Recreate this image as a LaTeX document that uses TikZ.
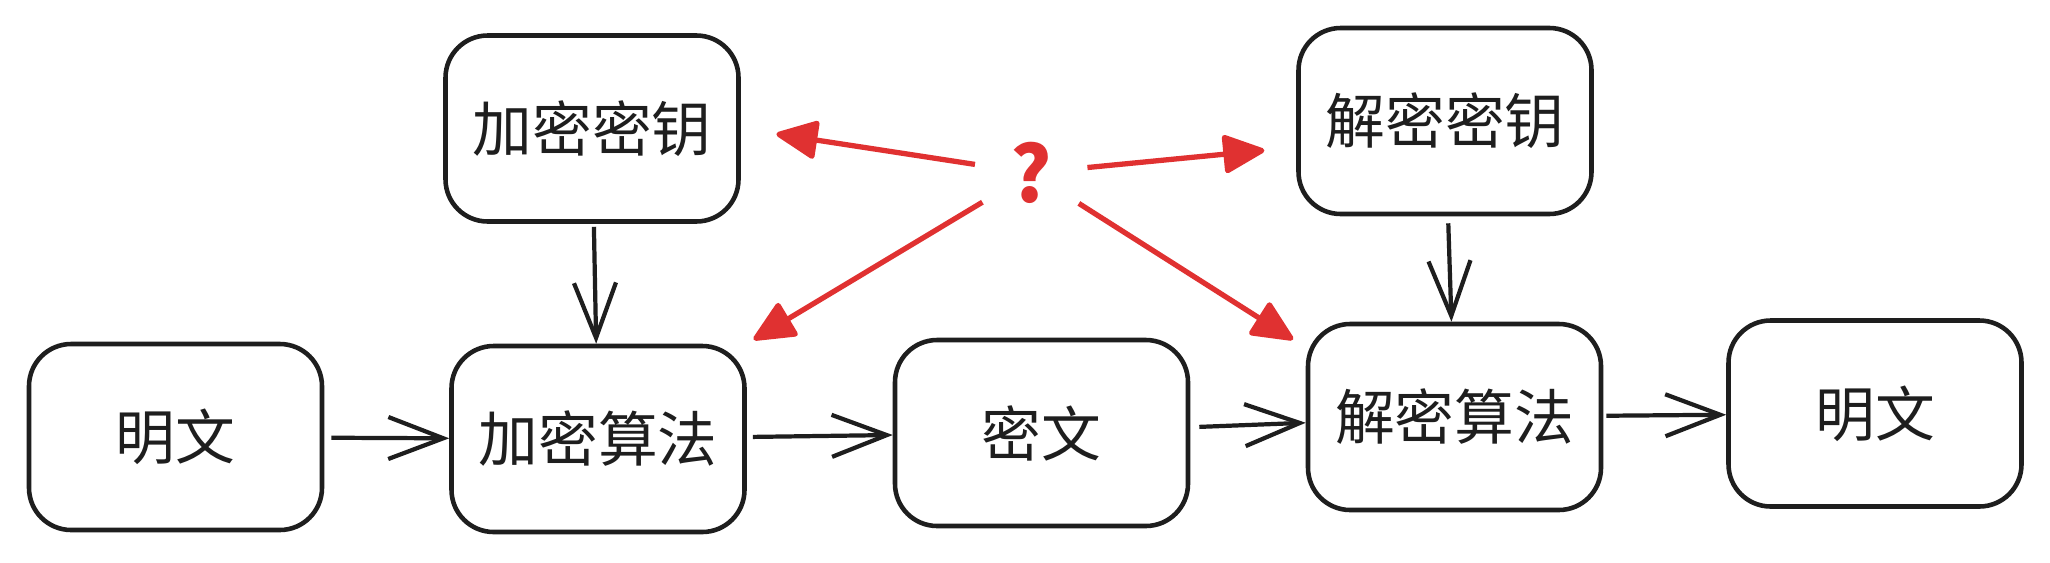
\documentclass[tikz,border=0pt]{standalone}
\usepackage{fontspec}
\setmainfont{Noto Sans CJK SC}
\usetikzlibrary{arrows.meta,positioning}
\definecolor{inkblack}{RGB}{30,30,30}
\definecolor{qred}{RGB}{224,49,49}
\tikzset{
    blockbox/.style={rectangle, rounded corners=12pt, minimum width=2.93cm, minimum height=1.86cm, text centered, draw=inkblack, line width=1.3pt, text=inkblack, font=\fontsize{17}{20}\selectfont},
    qmark/.style={circle, minimum size=1.12cm, inner sep=0pt, text=qred, font=\fontsize{22}{24}\selectfont\bfseries},
    arrow/.style={draw=inkblack, line width=1.2pt, -{Straight Barb[length=5.5mm,width=4.2mm]}},
    redarrow/.style={draw=qred, line width=1.5pt, -{Triangle[length=4.5mm,width=4mm,round]}}
}
\begin{document}
\begin{tikzpicture}

% Canvas
\path[fill=white, use as bounding box] (0,0) rectangle (20.5,5.62);

% Bottom row: plaintext -> encryption -> ciphertext -> decryption -> plaintext
\node[blockbox] (plain_in) at (1.755,1.25) {明文};
\node[blockbox] (enc_alg) at (5.98,1.23) {加密算法};
\node[blockbox] (cipher) at (10.415,1.29) {密文};
\node[blockbox] (dec_alg) at (14.545,1.45) {解密算法};
\node[blockbox] (plain_out) at (18.75,1.485) {明文};

% Keys (top row)
\node[blockbox] (enc_key) at (5.92,4.335) {加密密钥};
\node[blockbox] (dec_key) at (14.45,4.41) {解密密钥};

% Question mark between the keys
\node[qmark] (question) at (10.31,3.89) {?};

% Main flow arrows
\draw[arrow, shorten <=0.07cm] (plain_in) -- (enc_alg);
\draw[arrow, shorten <=0.06cm] (enc_alg) -- (cipher);
\draw[arrow, shorten <=0.09cm] (cipher) -- (dec_alg);
\draw[arrow, shorten <=0.03cm] (dec_alg) -- (plain_out);

% Key arrows
\draw[arrow, shorten <=0.03cm] (enc_key) -- (enc_alg);
\draw[arrow, shorten <=0.07cm] (dec_key) -- (dec_alg);

% Red arrows from the question mark
\draw[redarrow, shorten >=0.36cm] (question) -- (enc_key.east);
\draw[redarrow, shorten >=0.32cm] (question) -- (dec_key.190);
\draw[redarrow, shorten >=0.08cm] (question) -- (enc_alg.north east);
\draw[redarrow, shorten >=0.15cm] (question) -- (dec_alg.155);

\end{tikzpicture}
\end{document}
